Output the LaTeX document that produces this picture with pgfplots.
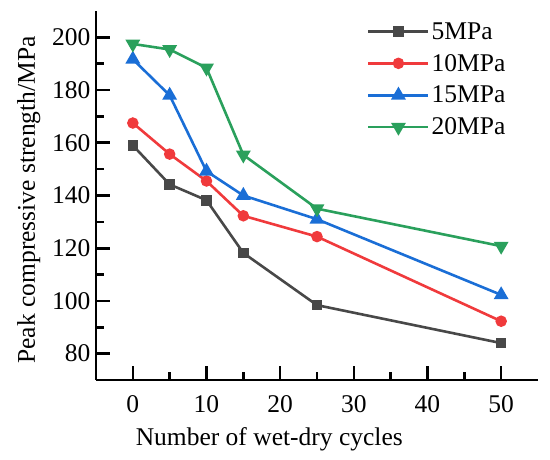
\documentclass[border=0pt]{standalone}
\usepackage{pgfplots}
\pgfplotsset{compat=1.18}
\usepackage{fontspec}
\setmainfont{Liberation Serif}
\definecolor{cgray}{RGB}{72,72,72}
\definecolor{cred}{RGB}{240,58,60}
\definecolor{cblue}{RGB}{26,110,214}
\definecolor{cgreen}{RGB}{42,160,92}
\newcommand{\bigf}{\fontsize{25.5}{30}\selectfont}
\begin{document}
\begin{tikzpicture}
\useasboundingbox (-96pt,-80pt) rectangle (454pt,380pt);
\begin{axis}[
  at={(0,0)}, anchor=south west,
  scale only axis, width=442pt, height=369pt,
  xmin=-5, xmax=55, ymin=70, ymax=210,
  axis x line*=bottom, axis y line*=left,
  axis line style={line width=2.6pt,-},
  xtick={0,10,20,30,40,50}, ytick={80,100,120,140,160,180,200},
  xticklabels={0,10,20,30,40,50},
  yticklabels={80,100,120,140,160,180,200},
  minor x tick num=1, minor y tick num=1,
  tick align=inside,
  major tick length=14pt, minor tick length=8pt,
  every tick/.style={line width=2.6pt,black},
  tick label style={font=\bigf},
  xticklabel style={yshift=-12pt},
  yticklabel style={xshift=-2pt},
  xlabel={Number of wet-dry cycles},
  ylabel={Peak compressive strength/MPa},
  label style={font=\bigf},
  xlabel style={at={(axis description cs:0.392,0)}, anchor=north, yshift=-44pt},
  ylabel style={at={(axis description cs:0,0.488)}, anchor=south, yshift=52pt},
  legend style={draw=none, fill=none, font=\bigf, at={(axis description cs:0.613,0.975)}, anchor=north west, row sep=9.5pt, inner sep=0pt, legend cell align=left},
  legend image code/.code={\draw[mark repeat=2,mark phase=2,#1] plot coordinates {(0pt,0pt) (30pt,0pt) (60pt,0pt)};},
  every axis plot/.append style={line width=2.6pt},
]
\addplot[cgray, mark=square*, mark size=4pt, mark options={solid}] coordinates {(0,159) (5,144.2) (10,138.2) (15,118.2) (25,98.4) (50,84)};
\addlegendentry{\bigf 5MPa}
\addplot[cred, mark=*, mark size=4.4pt] coordinates {(0,167.5) (5,155.7) (10,145.5) (15,132.3) (25,124.4) (50,92.3)};
\addlegendentry{\bigf 10MPa}
\addplot[cblue, mark=triangle*, mark size=6pt] coordinates {(0,191.7) (5,178) (10,149.2) (15,140) (25,131) (50,102.3)};
\addlegendentry{\bigf 15MPa}
\addplot[cgreen, mark=triangle*, mark size=6pt, mark options={rotate=180}] coordinates {(0,197.5) (5,195.4) (10,188.4) (15,155.4) (25,135) (50,120.8)};
\addlegendentry{\bigf 20MPa}
\end{axis}
\end{tikzpicture}
\end{document}
